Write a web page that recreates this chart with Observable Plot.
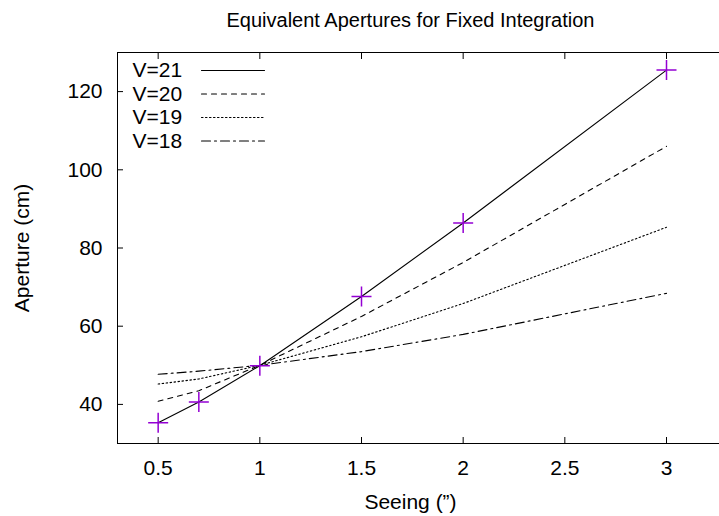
<!DOCTYPE html>
<html><head><meta charset="utf-8">
<script src="https://cdn.jsdelivr.net/npm/d3@7"></script>
<script src="https://cdn.jsdelivr.net/npm/@observablehq/plot@0.6"></script>
<style>body{margin:0;background:#fff;} #chart svg{overflow:hidden;}</style>
</head><body><div id="chart"></div>
<script>
// ---- data ----
const seeing = [0.5, 0.7, 1, 1.5, 2, 3];
const seriesNames = ["V=21", "V=20", "V=19", "V=18"];
const v21 = [35.3, 40.6, 49.9, 67.6, 86.4, 125.5];
const v20 = [40.8, 43.5, 50.0, 62.5, 76.3, 106.0];
const v19 = [45.2, 46.5, 50.0, 57.3, 65.8, 85.3];
const v18 = [47.7, 48.5, 50.0, 53.5, 57.9, 68.4];
const xTicks = [0.5, 1, 1.5, 2, 2.5, 3];
const yTicks = [40, 60, 80, 100, 120];
const titleText = "Equivalent Apertures for Fixed Integration";
const xLabelText = "Seeing (”)";
const yLabelText = "Aperture (cm)";

// ---- styling ----
const dashes = [null, "5,5", "1.5,2.5", "9,4,2,4"];
const seriesValues = [v21, v20, v19, v18];
const rows = seriesNames.map((name, i) =>
  seeing.map((s, j) => ({series: name, seeing: s, aperture: seriesValues[i][j]})));
const pointRows = rows[0];

const font = "'Liberation Sans', Arial, Helvetica, sans-serif";
const lineShape = {draw(ctx, l) { ctx.moveTo(0, 0); ctx.lineTo(0, -l); }};

const marks = [
  Plot.frame({stroke: "black", strokeWidth: 1}),
  Plot.axisX(xTicks, {anchor: "bottom", tickSize: -6, tickPadding: 23, label: null,
    tickFormat: d => String(d), fontSize: 21, stroke: "black"}),
  Plot.axisX(xTicks, {anchor: "top", tickSize: -6, label: null, tickFormat: () => "", stroke: "black"}),
  Plot.axisY(yTicks, {anchor: "left", tickSize: -6, tickPadding: 21, label: null,
    tickFormat: d => String(d), fontSize: 21, stroke: "black"})
];

rows.forEach((r, i) => {
  marks.push(Plot.line(r, {x: "seeing", y: "aperture", stroke: "black", strokeWidth: 1.1,
    strokeDasharray: dashes[i] || undefined}));
});
marks.push(Plot.dot(pointRows, {x: "seeing", y: "aperture", symbol: "plus", r: 6.5,
  stroke: "#9400d3", strokeWidth: 1.5}));

// legend
seriesNames.forEach((name, i) => {
  marks.push(Plot.text([name], {text: d => d, frameAnchor: "top-left", dx: 15, dy: 18 + i * 23.5,
    textAnchor: "start", lineAnchor: "middle", fontSize: 21, fill: "black"}));
  marks.push(Plot.vector([name], {frameAnchor: "top-left", dx: 84, dy: 18 + i * 23.5,
    length: 63, rotate: 90, anchor: "start", shape: lineShape, stroke: "black",
    strokeWidth: 1.1, strokeDasharray: dashes[i] || undefined}));
});

// title & axis labels
marks.push(Plot.text([titleText], {text: d => d, frameAnchor: "top-left", dx: 293, dy: -26,
  textAnchor: "middle", lineAnchor: "bottom", fontSize: 20, fill: "black"}));
marks.push(Plot.text([xLabelText], {text: d => d, frameAnchor: "bottom-left", dx: 293, dy: 65,
  textAnchor: "middle", lineAnchor: "bottom", fontSize: 21, fill: "black"}));
marks.push(Plot.text([yLabelText], {text: d => d, frameAnchor: "left", dx: -95, rotate: -90,
  textAnchor: "middle", lineAnchor: "middle", fontSize: 21, fill: "black"}));

const chart = Plot.plot({
  width: 719, height: 516,
  marginLeft: 117, marginRight: -8, marginTop: 52, marginBottom: 73,
  x: {domain: [0.3, 3.3]},
  y: {domain: [30, 130]},
  style: {fontFamily: font, fontSize: "21px", color: "black", background: "white"},
  marks
});
document.getElementById("chart").append(chart);
</script>
</body></html>
